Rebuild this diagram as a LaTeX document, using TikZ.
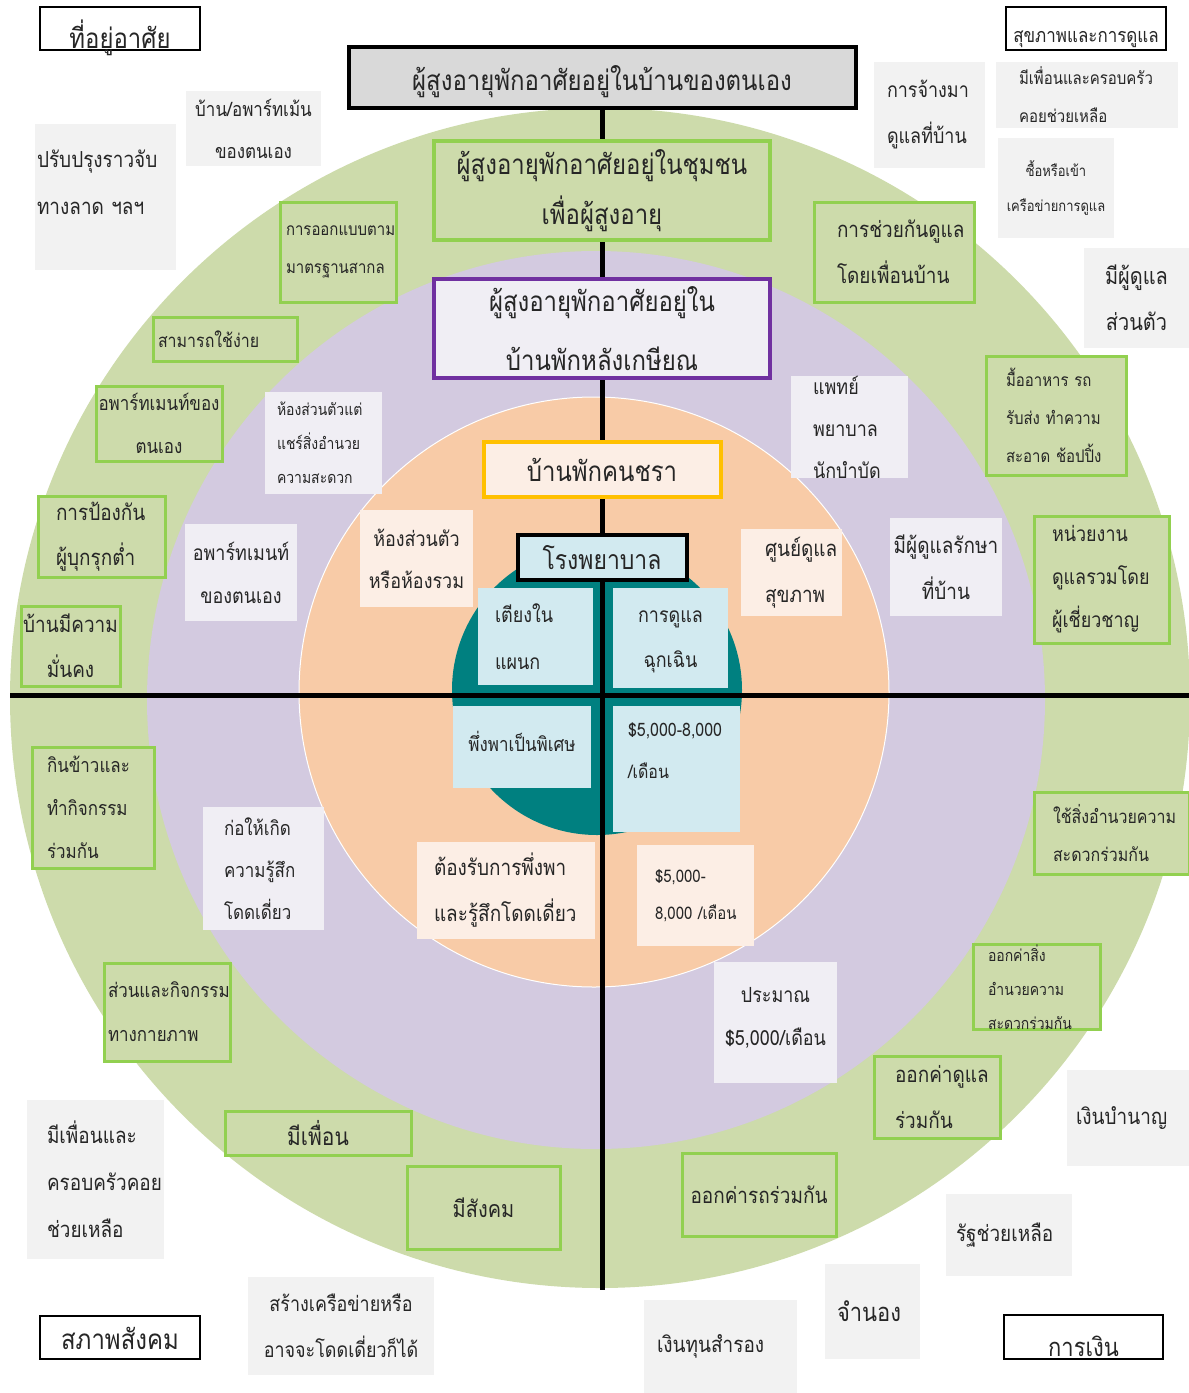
\documentclass[tikz,border=0pt]{standalone}
\usepackage{fontspec}
\setmainfont{Loma}[Script=Thai, FakeStretch=0.86]

\definecolor{ringgreen}{HTML}{CDDBAB}
\definecolor{ringlilac}{HTML}{D3CAE0}
\definecolor{ringpeach}{HTML}{F8CBA7}
\definecolor{coreteal}{HTML}{008080}
\definecolor{edgegreen}{HTML}{92D050}
\definecolor{edgepurple}{HTML}{7030A0}
\definecolor{edgegold}{HTML}{FFC000}
\definecolor{fillblue}{HTML}{D2EAF0}
\definecolor{fillcream}{HTML}{FCEEE5}
\definecolor{filllilac}{HTML}{F0EEF4}
\definecolor{fillgray}{HTML}{F2F2F2}
\definecolor{fillsilver}{HTML}{D9D9D9}
\definecolor{inkgray}{HTML}{262626}

\tikzset{
  fs/.style 2 args={font=\fontsize{\fpeval{1.16*#1}}{#2}\selectfont},
  sz/.style 2 args={minimum width=#1pt, minimum height=#2pt},
  ctr/.style={align=center, text width=#1pt},
  lft/.style={align=left, text width=#1pt},
  card/.style={inner sep=0pt, text=inkgray},
  catbox/.style={card, draw=black, line width=2.5pt, fill=white, text depth=0pt, text height=#1pt},
  gbox/.style={card, draw=edgegreen, line width=3pt, fill=ringgreen},
  lbox/.style={card, fill=filllilac},
  cbox/.style={card, fill=fillcream},
  bbox/.style={card, fill=fillblue},
  qbox/.style={card, fill=fillgray},
  spine/.style={line width=5pt, black},
}

\begin{document}
\begin{tikzpicture}[x=1pt, y=-1pt]
    \useasboundingbox (0,0) rectangle (1189,1393);

    % rings
    \fill [ringgreen] (600,698) circle (590pt);
    \fill [ringlilac] (596,700) circle (449pt);
    \filldraw [fill=ringpeach, draw=white, line width=1pt] (594,692) circle (295pt);
    \fill [coreteal] (597,690) circle (145pt);

    \coordinate (axisW) at (10,695);
    \coordinate (axisE) at (1189,695);
    \coordinate (spineend) at (602,1290);

    % corner headings
    \node [catbox=40, sz={160}{43}, fs={24}{28}] (housing) at (120,28.5) {ที่อยู่อาศัย};
    \node [catbox=27, sz={160}{43}, fs={17}{20}] (health) at (1086,28.5) {สุขภาพและการดูแล};
    \node [catbox=24, sz={160}{43}, fs={24}{28}] (society) at (120,1337.5) {สภาพสังคม};
    \node [catbox=38, sz={159}{44}, fs={22}{26}] (finance) at (1083.5,1337) {การเงิน};

    % main chain
    \node [card, draw=black, line width=4pt, fill=fillsilver, sz={507}{61}, fs={24}{28}, text height=26pt, text depth=0pt] (ownhome) at (602,77.5) {ผู้สูงอายุพักอาศัยอยู่ในบ้านของตนเอง};
    \node [card, draw=edgegreen, line width=4pt, fill=ringgreen, sz={336}{99}, ctr=336, fs={24}{50}] (community) at (602,190.5) {ผู้สูงอายุพักอาศัยอยู่ในชุมชน\\เพื่อผู้สูงอายุ};
    \node [card, draw=edgepurple, line width=4pt, fill=filllilac, sz={336}{99}, ctr=336, fs={24}{59}] (retire) at (602,328.5) {ผู้สูงอายุพักอาศัยอยู่ใน\\บ้านพักหลังเกษียณ};
    \node [card, draw=edgegold, line width=4pt, fill=fillcream, sz={237}{55}, fs={24}{28}] (nursing) at (602,469.5) {บ้านพักคนชรา};
    \node [card, draw=black, line width=4pt, fill=fillblue, sz={169}{45}, fs={23}{27}] (hospital) at (602,557.5) {โรงพยาบาล};

    \draw [spine] (ownhome.south) -- (community.north);
    \draw [spine] (community.south) -- (retire.north);
    \draw [spine] (retire.south) -- (nursing.north);
    \draw [spine] (nursing.south) -- (hospital.north);
    \draw [spine] (hospital.south) -- (spineend);
    \draw [spine] (axisW) -- (axisE);

    % hospital
    \node [bbox, sz={115}{97}, lft=81, fs={18}{47}] (ward) at (535.5,636.5) {เตียงใน\\แผนก};
    \node [bbox, sz={115}{100}, ctr=115, fs={18}{45}] (emergency) at (670.5,638) {\mbox{}\\[-25pt]การดูแล\\ฉุกเฉิน};
    \node [bbox, sz={138}{82}, ctr=138, fs={17}{20}] (special) at (522,747) {พึ่งพาเป็นพิเศษ\\[-8pt]\mbox{}};
    \node [bbox, sz={127}{126}, lft=97, fs={16}{42}] (hospcost) at (676.5,769) {\$5,000-8,000\\/เดือน\\[-6pt]\mbox{}};

    % nursing home
    \node [cbox, sz={113}{97}, ctr=113, fs={18}{42}] (roomtype) at (416.5,558.5) {ห้องส่วนตัว\\หรือห้องรวม};
    \node [cbox, sz={101}{87}, lft=53, fs={19}{46}] (healthctr) at (791.5,572.5) {ศูนย์ดูแล\\สุขภาพ};
    \node [cbox, sz={178}{97}, lft=144, fs={19}{46}] (dependent) at (506,890.5) {ต้องรับการพึ่งพา\\และรู้สึกโดดเดี่ยว};
    \node [cbox, sz={117}{101}, lft=81, fs={15}{37}] (nursecost) at (695.5,895.5) {\$5,000-\\8,000~/เดือน};

    % retirement home
    \node [lbox, sz={117}{102}, lft=93, fs={14}{34}] (sharedroom) at (323.5,443) {ห้องส่วนตัวแต่\\แชร์สิ่งอำนวย\\ความสะดวก};
    \node [lbox, sz={112}{97}, ctr=112, fs={18}{43}] (ownapt) at (241,572.5) {อพาร์ทเมนท์\\ของตนเอง};
    \node [lbox, sz={117}{102}, lft=73, fs={18}{42}] (medstaff) at (849.5,427) {แพทย์\\พยาบาล\\นักบำบัด};
    \node [lbox, sz={112}{98}, ctr=112, fs={19}{46}] (homecare) at (946,567) {มีผู้ดูแลรักษา\\ที่บ้าน};
    \node [lbox, sz={121}{123}, lft=79, fs={17}{42}] (isolation) at (263.5,868.5) {ก่อให้เกิด\\ความรู้สึก\\โดดเดี่ยว};
    \node [lbox, sz={123}{121}, ctr=123, fs={18}{43}] (retirecost) at (775.5,1022.5) {ประมาณ\\\$5,000/เดือน\\[-30pt]\mbox{}};

    % community
    \node [gbox, sz={116}{100}, lft=104, fs={15}{38}] (design) at (338,252) {การออกแบบตาม\\มาตรฐานสากล};
    \node [gbox, sz={144}{44}, lft=134, fs={16}{20}] (easyuse) at (225,339) {สามารถใช้ง่าย};
    \node [gbox, sz={126}{75}, ctr=126, fs={17}{43}] (ownflat) at (159,423.5) {อพาร์ทเมนท์ของ\\ตนเอง};
    \node [gbox, sz={127}{81}, lft=91, fs={19}{45}] (intruder) at (101.5,536.5) {การป้องกัน\\ผู้บุกรุกต่ำ};
    \node [gbox, sz={99}{80}, ctr=99, fs={19}{45}] (secure) at (70.5,646) {บ้านมีความ\\มั่นคง};
    \node [gbox, sz={160}{100}, lft=114, fs={19}{46}] (neighbour) at (894,252) {การช่วยกันดูแล\\โดยเพื่อนบ้าน};
    \node [gbox, sz={140}{119}, lft=100, fs={15}{38}] (errands) at (1056,415.5) {มื้ออาหาร~รถ\\รับส่ง~ทำความ\\สะอาด~ช้อปปิ้ง};
    \node [gbox, sz={135}{127}, lft=99, fs={18}{43}] (agency) at (1101.5,579.5) {หน่วยงาน\\ดูแลรวมโดย\\ผู้เชี่ยวชาญ};
    \node [gbox, sz={122}{121}, lft=92, fs={17}{43}] (dining) at (93,807.5) {กินข้าวและ\\ทำกิจกรรม\\ร่วมกัน};
    \node [gbox, sz={126}{98}, lft=118, fs={17}{44}] (activity) at (167,1012) {ส่วนและกิจกรรม\\ทางกายภาพ};
    \node [gbox, sz={155}{82}, lft=117, fs={16}{38}] (sharefacil) at (1111.5,833) {ใช้สิ่งอำนวยความ\\สะดวกร่วมกัน};
    \node [gbox, sz={127}{82}, lft=97, fs={14}{34}] (facilcost) at (1036.5,987) {ออกค่าสิ่ง\\อำนวยความ\\สะดวกร่วมกัน};
    \node [gbox, sz={186}{44}, fs={21}{24}] (friends) at (318,1133) {มีเพื่อน};
    \node [gbox, sz={153}{83}, fs={20}{24}] (social) at (483.5,1207.5) {มีสังคม};
    \node [gbox, sz={126}{82}, lft=84, fs={19}{46}] (carecost) at (937,1097) {ออกค่าดูแล\\ร่วมกัน};
    \node [gbox, sz={154}{83}, fs={19}{22}] (ridecost) at (759,1194.5) {ออกค่ารถร่วมกัน};

    % own home
    \node [qbox, sz={135}{75}, ctr=135, fs={17}{42}] (ownunit) at (253.5,128.5) {บ้าน/อพาร์ทเม้น\\ของตนเอง};
    \node [qbox, sz={141}{146}, lft=137, fs={19}{47}] (handrail) at (105.5,197) {ปรับปรุงราวจับ\\ทางลาด~ฯลฯ\\[-18pt]\mbox{}};
    \node [qbox, sz={111}{106}, lft=85, fs={18}{46}] (hired) at (929.5,115) {การจ้างมา\\ดูแลที่บ้าน};
    \node [qbox, sz={182}{66}, lft=136, fs={15}{38}] (kinhelp) at (1087,95) {มีเพื่อนและครอบครัว\\คอยช่วยเหลือ};
    \node [qbox, sz={116}{100}, ctr=116, fs={13}{35}] (carenet) at (1056,188) {ซื้อหรือเข้า\\เครือข่ายการดูแล};
    \node [qbox, sz={105}{100}, ctr=105, fs={20}{46}] (personal) at (1136.5,298) {มีผู้ดูแล\\ส่วนตัว};
    \node [qbox, sz={137}{159}, lft=97, fs={19}{47}] (kinhelp2) at (95.5,1179.5) {มีเพื่อนและ\\ครอบครัวคอย\\ช่วยเหลือ};
    \node [qbox, sz={186}{98}, ctr=186, fs={18}{46}] (network) at (341,1326) {สร้างเครือข่ายหรือ\\อาจจะโดดเดี่ยวก็ได้};
    \node [qbox, sz={122}{96}, lft=104, fs={19}{22}] (pension) at (1128,1118) {เงินบำนาญ};
    \node [qbox, sz={126}{82}, lft=106, fs={19}{22}] (stateaid) at (1009,1235) {รัฐช่วยเหลือ};
    \node [qbox, sz={95}{95}, lft=71, fs={22}{26}] (mortgage) at (872.5,1311.5) {จำนอง};
    \node [qbox, sz={153}{93}, lft=127, fs={19}{22}] (reserve) at (720.5,1346.5) {เงินทุนสำรอง};
\end{tikzpicture}
\end{document}
